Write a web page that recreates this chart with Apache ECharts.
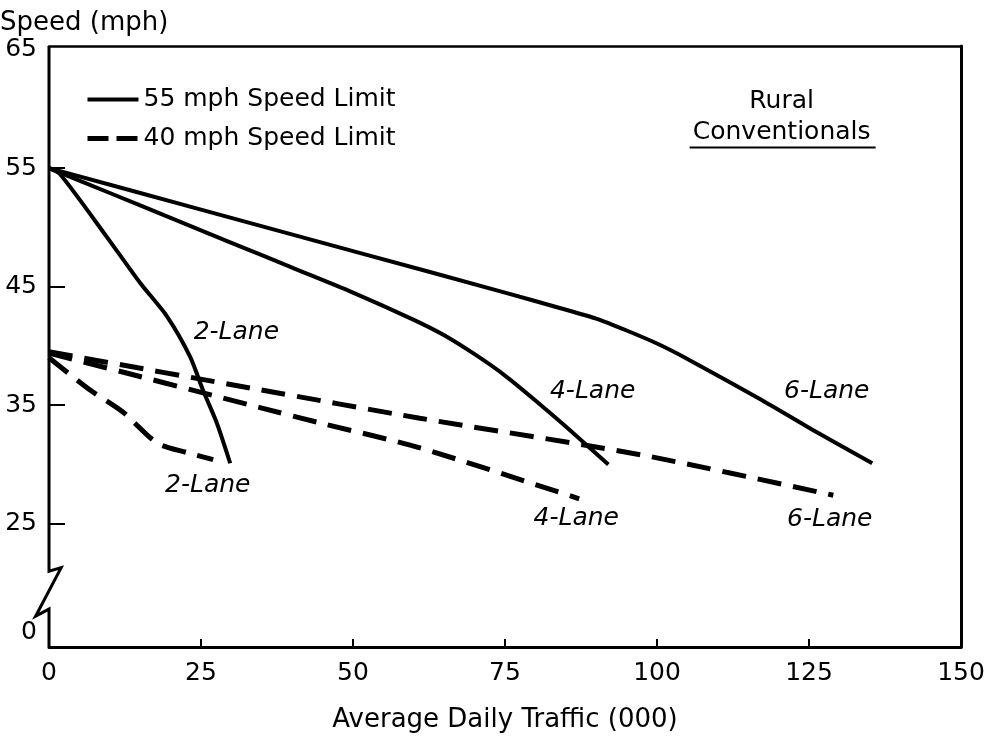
<!DOCTYPE html>
<html><head><meta charset="utf-8">
<script src="https://cdn.jsdelivr.net/npm/echarts@6/dist/echarts.min.js"></script>
<style>html,body{margin:0;padding:0;background:#fff}#c{width:991px;height:747px}</style>
</head><body><div id="c"></div>
<script>
// ---- data ----
const seriesNames = ['55 mph Speed Limit', '40 mph Speed Limit'];
const lane2Solid = [[0,55],[1.8,54.5],[9.5,49.2],[15,45.3],[19.4,42.5],[23.2,39.1],[25.3,36.3],[27.6,33.5],[29.8,30.1]];
const lane4Solid = [[0,55],[10,52.9],[20,50.8],[30,48.7],[40,46.6],[50,44.5],[60,42.2],[65,40.9],[70,39.3],[75,37.5],[80,35.4],[85,33.2],[92,30.0]];
const lane6Solid = [[0,55],[25,51.5],[50,48.0],[75,44.5],[84,43.2],[90,42.3],[95,41.3],[100,40.2],[105,38.9],[117,35.5],[126,32.8],[135.4,30.1]];
const lane2Dash = [[0,39.0],[6.7,36.3],[12.2,34.4],[17.8,31.8],[22.7,31.0],[27,30.4]];
const lane4Dash = [[0,39.4],[34.7,34.8],[44.6,33.5],[61,31.4],[87.2,27.1]];
const lane6Dash = [[0,39.5],[34.7,36.3],[61,33.9],[97.5,30.8],[129,27.4]];
const laneLabels = [[30.9,41.1,'2-Lane'],[26.2,28.2,'2-Lane'],[89.5,36.1,'4-Lane'],[86.8,25.4,'4-Lane'],[128,36.1,'6-Lane'],[128.5,25.3,'6-Lane']];
const xTickValues = [0,25,50,75,100,125,150];
const yLabelValues = [15.8,25,35,45,55,65];
const yLabelTexts = ['0','25','35','45','55','65'];
const yTickValues = [25,35,45,55];
const xTitle = 'Average Daily Traffic (000)';
const yTitle = 'Speed (mph)';
const panelTitle = ['Rural', 'Conventionals'];
const axisBreak = [[0,65.3],[0,21.0],[2.0,21.3],[-2.2,17.2],[0,17.8],[0,14.6]];

// ---- chart ----
const FONT = 'DejaVu Sans';
const chart = echarts.init(document.getElementById('c'));
const solidStyle = {color:'#000', width:4, type:'solid'};
const dashStyle = {color:'#000', width:5, type:[24,12]};
function mk(name, data, style){
  return {type:'line', name, data, symbol:'none', smooth:0.25, lineStyle:style, itemStyle:{color:'#000'}, z:3, silent:true};
}
const option = {
  animation:false,
  title:{text:yTitle, left:0, top:10, padding:0, textStyle:{fontFamily:FONT, fontSize:26, fontWeight:'normal', color:'#000'}},
  legend:{
    data:[
      {name:seriesNames[0], lineStyle:{width:4, type:'solid', color:'#000'}},
      {name:seriesNames[1], lineStyle:{width:5, type:[21,8], color:'#000'}}
    ],
    orient:'vertical', left:80, top:82, itemWidth:51, itemHeight:14, itemGap:14, selectedMode:false,
    itemStyle:{opacity:0},
    textStyle:{fontFamily:FONT, fontSize:25, color:'#000'}},
  grid:{left:49, right:30, top:46, bottom:100},
  xAxis:[{type:'value', min:0, max:150, interval:25, name:xTitle, nameLocation:'middle', nameGap:60,
      nameTextStyle:{fontFamily:FONT, fontSize:26, color:'#000'},
      axisLine:{onZero:false, lineStyle:{color:'#000', width:3}},
      axisTick:{inside:true, length:8, customValues:xTickValues.slice(1,-1), lineStyle:{color:'#000', width:2}},
      axisLabel:{margin:14, fontFamily:FONT, fontSize:25, color:'#000', customValues:xTickValues},
      splitLine:{show:false}},
    {type:'value', position:'top', min:0, max:150, axisLine:{onZero:false, lineStyle:{color:'#000', width:2.5}},
      axisTick:{show:false}, axisLabel:{show:false}, splitLine:{show:false}}],
  yAxis:[{type:'value', min:14.6, max:65.3, axisLine:{show:false, onZero:false},
      axisTick:{show:true, inside:true, length:16, customValues:yTickValues, lineStyle:{color:'#000', width:2}},
      axisLabel:{customValues:yLabelValues, margin:12, fontFamily:FONT, fontSize:25, color:'#000',
        formatter:(v)=>{const i=yLabelValues.indexOf(v); return i>=0?yLabelTexts[i]:'';}},
      splitLine:{show:false}},
    {type:'value', position:'right', min:14.6, max:65.3, axisLine:{show:true, onZero:false, lineStyle:{color:'#000', width:3}},
      axisTick:{show:false}, axisLabel:{show:false}, splitLine:{show:false}}],
  series:[
    mk(seriesNames[0], lane2Solid, solidStyle),
    mk(seriesNames[0], lane4Solid, solidStyle),
    mk(seriesNames[0], lane6Solid, solidStyle),
    mk(seriesNames[1], lane2Dash, dashStyle),
    mk(seriesNames[1], lane4Dash, dashStyle),
    mk(seriesNames[1], lane6Dash, dashStyle),
    {type:'scatter', name:'labels', data:laneLabels, symbolSize:1, itemStyle:{color:'rgba(0,0,0,0)'}, silent:true,
      label:{show:true, position:[0,0], align:'center', verticalAlign:'middle', formatter:(p)=>p.value[2],
        fontFamily:FONT, fontStyle:'italic', fontSize:25, color:'#000', textBorderWidth:0, opacity:1}}
  ]
};
chart.setOption(option);
const pts = axisBreak.map(p => chart.convertToPixel({xAxisIndex:0, yAxisIndex:0}, p));
const c1 = chart.convertToPixel({xAxisIndex:0, yAxisIndex:0}, [120.5, 60.6]);
const c2 = chart.convertToPixel({xAxisIndex:0, yAxisIndex:0}, [120.5, 58.0]);
chart.setOption({graphic:[
  {type:'polyline', shape:{points:pts}, style:{stroke:'#000', lineWidth:3, fill:null}, z:10, silent:true},
  {type:'text', x:c1[0], y:c1[1], style:{text:panelTitle[0], align:'center', verticalAlign:'middle', textAlign:'center', textVerticalAlign:'middle', fontFamily:FONT, fontSize:25, fill:'#000'}, z:10},
  {type:'text', x:c2[0], y:c2[1], style:{text:panelTitle[1], align:'center', verticalAlign:'middle', textAlign:'center', textVerticalAlign:'middle', fontFamily:FONT, fontSize:25, fill:'#000'}, z:10},
  {type:'line', shape:{x1:c2[0]-92, y1:c2[1]+15, x2:c2[0]+94, y2:c2[1]+15}, style:{stroke:'#000', lineWidth:2}, z:10, silent:true}
]});
</script>
</body></html>
